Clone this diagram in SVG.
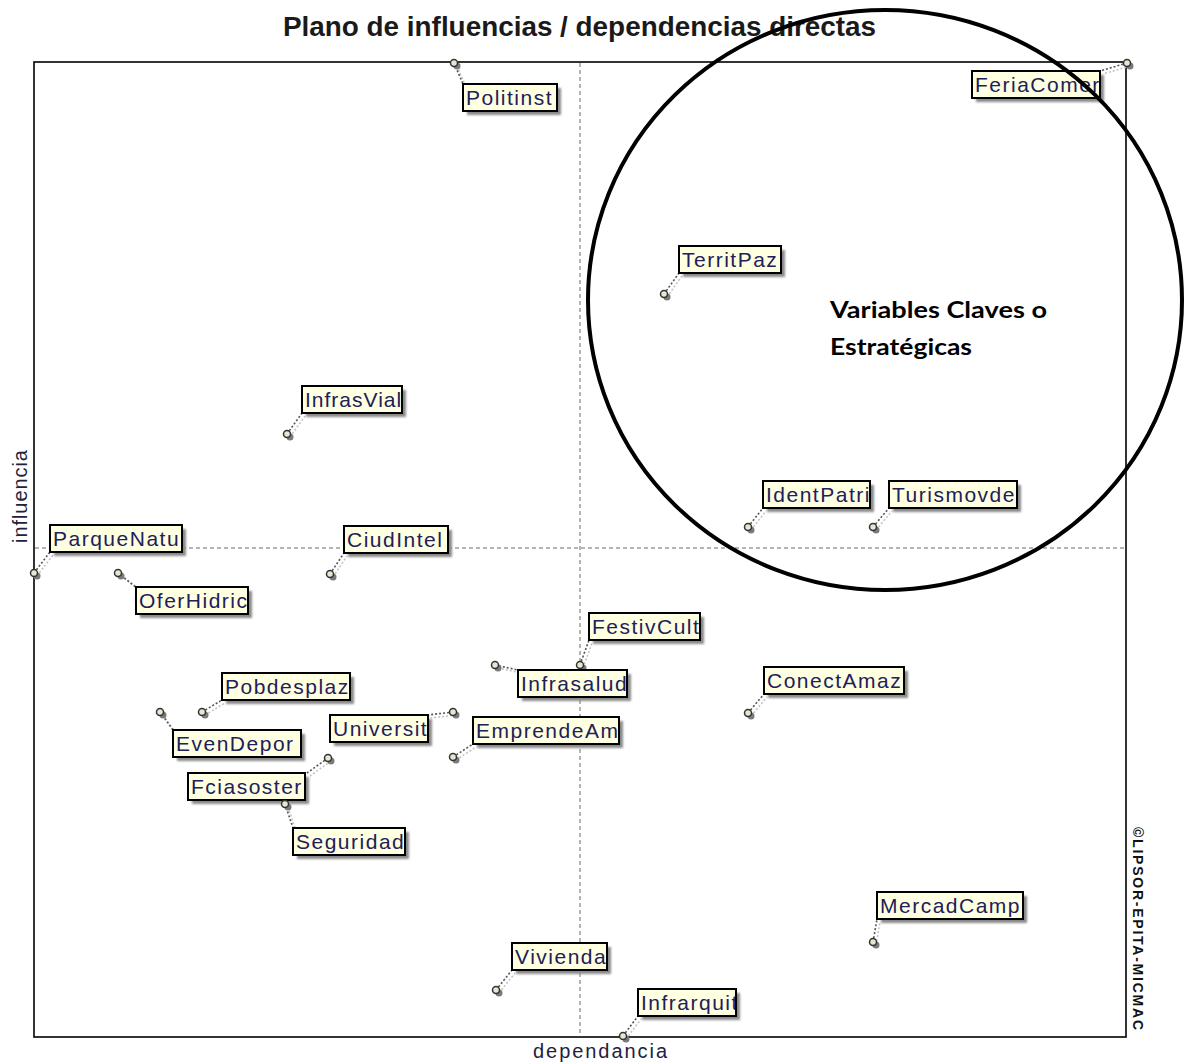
<svg xmlns="http://www.w3.org/2000/svg" width="1186" height="1064" viewBox="0 0 1186 1064">
  <style>
    .frame { fill: #ffffff; stroke: #000000; stroke-width: 1.6; }
    .axis { stroke: #6a6a6a; stroke-width: 1; stroke-dasharray: 4 3; fill: none; }
    .link { stroke: #555555; stroke-width: 1.6; stroke-dasharray: 2 2; fill: none; }
    .link-sh { stroke: #c4c4c4; stroke-width: 1.6; stroke-dasharray: 2 2; fill: none; }
    .box { fill: none; stroke: #000000; stroke-width: 2; }
    .box-sh { fill: #8a8a8a; filter: url(#soft); }
    .lbl { font-family: "Liberation Sans", Arial, sans-serif; font-size: 21px; letter-spacing: 1.5px; fill: #20205a; }
    .pt { fill: #e6e6d2; stroke: #333333; stroke-width: 1.5; }
    .pt-sh { fill: #7a7a7a; }
    .axlbl { font-family: "Liberation Sans", Arial, sans-serif; font-size: 20px; fill: #22223c; }
    .title { font-family: "Liberation Sans", Arial, sans-serif; font-size: 27px; font-weight: bold; fill: #1a1a1a; }
    .note { font-family: Lato, "Liberation Sans", sans-serif; font-size: 22px; font-weight: bold; fill: #000000; }
    .copy { font-family: "Liberation Sans", Arial, sans-serif; font-size: 14px; font-weight: bold; fill: #111111; }
  </style>
  <defs>
    <filter id="soft" x="-20%" y="-40%" width="140%" height="180%">
      <feGaussianBlur stdDeviation="1.2"/>
    </filter>
  </defs>

  <rect x="0" y="0" width="1186" height="1064" fill="#ffffff"/>

  <!-- title -->
  <text class="title" x="283" y="36" textLength="593" lengthAdjust="spacingAndGlyphs">Plano de influencias / dependencias directas</text>

  <!-- plot frame and mean axes -->
  <rect class="frame" x="34" y="62" width="1092" height="975"/>
  <line class="axis" x1="580" y1="63" x2="580" y2="1036"/>
  <line class="axis" x1="35" y1="548" x2="1125" y2="548"/>

  <!-- axis titles -->
  <text class="axlbl" x="533" y="1058" textLength="134" lengthAdjust="spacing">dependancia</text>
  <text class="axlbl" transform="translate(27,497) rotate(-90)" x="-46" y="0" textLength="93" lengthAdjust="spacing">influencia</text>
  <text class="copy" transform="translate(1133,827) rotate(90)" x="0" y="0" textLength="203" lengthAdjust="spacing">©LIPSOR-EPITA-MICMAC</text>

  <!-- leader lines from each point to its label -->
  <g id="connectors">
    <g class="link-sh" transform="translate(3,3)">
      <line x1="1127" y1="63" x2="1100" y2="71"/>
      <line x1="454" y1="63" x2="463" y2="84"/>
      <line x1="664" y1="294" x2="679" y2="273"/>
      <line x1="287" y1="434" x2="302" y2="413"/>
      <line x1="748" y1="527" x2="763" y2="508"/>
      <line x1="873" y1="527" x2="889" y2="508"/>
      <line x1="34" y1="573" x2="50" y2="552"/>
      <line x1="118" y1="573" x2="136" y2="587"/>
      <line x1="330" y1="574" x2="344" y2="553"/>
      <line x1="580" y1="665" x2="589" y2="640"/>
      <line x1="495" y1="665" x2="518" y2="670"/>
      <line x1="453" y1="757" x2="473" y2="744"/>
      <line x1="453" y1="712" x2="428" y2="715"/>
      <line x1="202" y1="712" x2="222" y2="700"/>
      <line x1="160" y1="712" x2="173" y2="730"/>
      <line x1="328" y1="758" x2="307" y2="773"/>
      <line x1="285" y1="804" x2="293" y2="828"/>
      <line x1="748" y1="713" x2="764" y2="694"/>
      <line x1="873" y1="942" x2="877" y2="919"/>
      <line x1="496" y1="990" x2="512" y2="970"/>
      <line x1="623" y1="1036" x2="638" y2="1016"/>
    </g>
    <g class="link">
      <line x1="1127" y1="63" x2="1100" y2="71"/>
      <line x1="454" y1="63" x2="463" y2="84"/>
      <line x1="664" y1="294" x2="679" y2="273"/>
      <line x1="287" y1="434" x2="302" y2="413"/>
      <line x1="748" y1="527" x2="763" y2="508"/>
      <line x1="873" y1="527" x2="889" y2="508"/>
      <line x1="34" y1="573" x2="50" y2="552"/>
      <line x1="118" y1="573" x2="136" y2="587"/>
      <line x1="330" y1="574" x2="344" y2="553"/>
      <line x1="580" y1="665" x2="589" y2="640"/>
      <line x1="495" y1="665" x2="518" y2="670"/>
      <line x1="453" y1="757" x2="473" y2="744"/>
      <line x1="453" y1="712" x2="428" y2="715"/>
      <line x1="202" y1="712" x2="222" y2="700"/>
      <line x1="160" y1="712" x2="173" y2="730"/>
      <line x1="328" y1="758" x2="307" y2="773"/>
      <line x1="285" y1="804" x2="293" y2="828"/>
      <line x1="748" y1="713" x2="764" y2="694"/>
      <line x1="873" y1="942" x2="877" y2="919"/>
      <line x1="496" y1="990" x2="512" y2="970"/>
      <line x1="623" y1="1036" x2="638" y2="1016"/>
    </g>
  </g>

  <!-- variables: shadowed label box, clipped name, plotted point -->
  <g id="FeriaComer">
    <rect class="box-sh" x="976" y="75" width="128" height="27"/>
    <svg x="972" y="71" width="128" height="27"><rect width="128" height="27" fill="#ffffe1"/><text class="lbl" x="3" y="20.5">FeriaComer</text></svg>
    <rect class="box" x="972" y="71" width="128" height="27"/>
    <circle class="pt-sh" cx="1130" cy="66" r="3.5"/><circle class="pt" cx="1127" cy="63" r="3.5"/>
  </g>
  <g id="Politinst">
    <rect class="box-sh" x="467" y="88" width="94" height="27"/>
    <svg x="463" y="84" width="94" height="27"><rect width="94" height="27" fill="#ffffe1"/><text class="lbl" x="3" y="20.5">Politinst</text></svg>
    <rect class="box" x="463" y="84" width="94" height="27"/>
    <circle class="pt-sh" cx="457" cy="66" r="3.5"/><circle class="pt" cx="454" cy="63" r="3.5"/>
  </g>
  <g id="TerritPaz">
    <rect class="box-sh" x="683" y="250" width="102" height="27"/>
    <svg x="679" y="246" width="102" height="27"><rect width="102" height="27" fill="#ffffe1"/><text class="lbl" x="3" y="20.5">TerritPaz</text></svg>
    <rect class="box" x="679" y="246" width="102" height="27"/>
    <circle class="pt-sh" cx="667" cy="297" r="3.5"/><circle class="pt" cx="664" cy="294" r="3.5"/>
  </g>
  <g id="InfrasVial">
    <rect class="box-sh" x="306" y="390" width="100" height="27"/>
    <svg x="302" y="386" width="100" height="27"><rect width="100" height="27" fill="#ffffe1"/><text class="lbl" x="3" y="20.5" style="letter-spacing:1px">InfrasVial</text></svg>
    <rect class="box" x="302" y="386" width="100" height="27"/>
    <circle class="pt-sh" cx="290" cy="437" r="3.5"/><circle class="pt" cx="287" cy="434" r="3.5"/>
  </g>
  <g id="IdentPatri">
    <rect class="box-sh" x="767" y="485" width="107" height="27"/>
    <svg x="763" y="481" width="107" height="27"><rect width="107" height="27" fill="#ffffe1"/><text class="lbl" x="3" y="20.5">IdentPatri</text></svg>
    <rect class="box" x="763" y="481" width="107" height="27"/>
    <circle class="pt-sh" cx="751" cy="530" r="3.5"/><circle class="pt" cx="748" cy="527" r="3.5"/>
  </g>
  <g id="Turismovde">
    <rect class="box-sh" x="893" y="485" width="128" height="27"/>
    <svg x="889" y="481" width="128" height="27"><rect width="128" height="27" fill="#ffffe1"/><text class="lbl" x="3" y="20.5">Turismovde</text></svg>
    <rect class="box" x="889" y="481" width="128" height="27"/>
    <circle class="pt-sh" cx="876" cy="530" r="3.5"/><circle class="pt" cx="873" cy="527" r="3.5"/>
  </g>
  <g id="ParqueNatu">
    <rect class="box-sh" x="54" y="529" width="132" height="27"/>
    <svg x="50" y="525" width="132" height="27"><rect width="132" height="27" fill="#ffffe1"/><text class="lbl" x="3" y="20.5">ParqueNatu</text></svg>
    <rect class="box" x="50" y="525" width="132" height="27"/>
    <circle class="pt-sh" cx="37" cy="576" r="3.5"/><circle class="pt" cx="34" cy="573" r="3.5"/>
  </g>
  <g id="OferHidric">
    <rect class="box-sh" x="140" y="591" width="112" height="27"/>
    <svg x="136" y="587" width="112" height="27"><rect width="112" height="27" fill="#ffffe1"/><text class="lbl" x="3" y="20.5">OferHidric</text></svg>
    <rect class="box" x="136" y="587" width="112" height="27"/>
    <circle class="pt-sh" cx="121" cy="576" r="3.5"/><circle class="pt" cx="118" cy="573" r="3.5"/>
  </g>
  <g id="CiudIntel">
    <rect class="box-sh" x="348" y="530" width="104" height="27"/>
    <svg x="344" y="526" width="104" height="27"><rect width="104" height="27" fill="#ffffe1"/><text class="lbl" x="3" y="20.5">CiudIntel</text></svg>
    <rect class="box" x="344" y="526" width="104" height="27"/>
    <circle class="pt-sh" cx="333" cy="577" r="3.5"/><circle class="pt" cx="330" cy="574" r="3.5"/>
  </g>
  <g id="FestivCult">
    <rect class="box-sh" x="593" y="617" width="111" height="27"/>
    <svg x="589" y="613" width="111" height="27"><rect width="111" height="27" fill="#ffffe1"/><text class="lbl" x="3" y="20.5">FestivCult</text></svg>
    <rect class="box" x="589" y="613" width="111" height="27"/>
    <circle class="pt-sh" cx="583" cy="668" r="3.5"/><circle class="pt" cx="580" cy="665" r="3.5"/>
  </g>
  <g id="Infrasalud">
    <rect class="box-sh" x="522" y="674" width="109" height="27"/>
    <svg x="518" y="670" width="109" height="27"><rect width="109" height="27" fill="#ffffe1"/><text class="lbl" x="3" y="20.5">Infrasalud</text></svg>
    <rect class="box" x="518" y="670" width="109" height="27"/>
    <circle class="pt-sh" cx="498" cy="668" r="3.5"/><circle class="pt" cx="495" cy="665" r="3.5"/>
  </g>
  <g id="EmprendeAm">
    <rect class="box-sh" x="477" y="721" width="146" height="27"/>
    <svg x="473" y="717" width="146" height="27"><rect width="146" height="27" fill="#ffffe1"/><text class="lbl" x="3" y="20.5">EmprendeAm</text></svg>
    <rect class="box" x="473" y="717" width="146" height="27"/>
    <circle class="pt-sh" cx="456" cy="760" r="3.5"/><circle class="pt" cx="453" cy="757" r="3.5"/>
  </g>
  <g id="Universit">
    <rect class="box-sh" x="334" y="719" width="98" height="27"/>
    <svg x="330" y="715" width="98" height="27"><rect width="98" height="27" fill="#ffffe1"/><text class="lbl" x="3" y="20.5">Universit</text></svg>
    <rect class="box" x="330" y="715" width="98" height="27"/>
    <circle class="pt-sh" cx="456" cy="715" r="3.5"/><circle class="pt" cx="453" cy="712" r="3.5"/>
  </g>
  <g id="Pobdesplaz">
    <rect class="box-sh" x="226" y="677" width="128" height="27"/>
    <svg x="222" y="673" width="128" height="27"><rect width="128" height="27" fill="#ffffe1"/><text class="lbl" x="3" y="20.5">Pobdesplaz</text></svg>
    <rect class="box" x="222" y="673" width="128" height="27"/>
    <circle class="pt-sh" cx="205" cy="715" r="3.5"/><circle class="pt" cx="202" cy="712" r="3.5"/>
  </g>
  <g id="EvenDepor">
    <rect class="box-sh" x="177" y="734" width="128" height="27"/>
    <svg x="173" y="730" width="128" height="27"><rect width="128" height="27" fill="#ffffe1"/><text class="lbl" x="3" y="20.5">EvenDepor</text></svg>
    <rect class="box" x="173" y="730" width="128" height="27"/>
    <circle class="pt-sh" cx="163" cy="715" r="3.5"/><circle class="pt" cx="160" cy="712" r="3.5"/>
  </g>
  <g id="Fciasoster">
    <rect class="box-sh" x="192" y="777" width="117" height="27"/>
    <svg x="188" y="773" width="117" height="27"><rect width="117" height="27" fill="#ffffe1"/><text class="lbl" x="3" y="20.5">Fciasoster</text></svg>
    <rect class="box" x="188" y="773" width="117" height="27"/>
    <circle class="pt-sh" cx="331" cy="761" r="3.5"/><circle class="pt" cx="328" cy="758" r="3.5"/>
  </g>
  <g id="Seguridad">
    <rect class="box-sh" x="297" y="832" width="112" height="27"/>
    <svg x="293" y="828" width="112" height="27"><rect width="112" height="27" fill="#ffffe1"/><text class="lbl" x="3" y="20.5">Seguridad</text></svg>
    <rect class="box" x="293" y="828" width="112" height="27"/>
    <circle class="pt-sh" cx="288" cy="807" r="3.5"/><circle class="pt" cx="285" cy="804" r="3.5"/>
  </g>
  <g id="ConectAmaz">
    <rect class="box-sh" x="768" y="671" width="140" height="27"/>
    <svg x="764" y="667" width="140" height="27"><rect width="140" height="27" fill="#ffffe1"/><text class="lbl" x="3" y="20.5">ConectAmaz</text></svg>
    <rect class="box" x="764" y="667" width="140" height="27"/>
    <circle class="pt-sh" cx="751" cy="716" r="3.5"/><circle class="pt" cx="748" cy="713" r="3.5"/>
  </g>
  <g id="MercadCamp">
    <rect class="box-sh" x="881" y="896" width="146" height="27"/>
    <svg x="877" y="892" width="146" height="27"><rect width="146" height="27" fill="#ffffe1"/><text class="lbl" x="3" y="20.5">MercadCamp</text></svg>
    <rect class="box" x="877" y="892" width="146" height="27"/>
    <circle class="pt-sh" cx="876" cy="945" r="3.5"/><circle class="pt" cx="873" cy="942" r="3.5"/>
  </g>
  <g id="Vivienda">
    <rect class="box-sh" x="516" y="947" width="95" height="27"/>
    <svg x="512" y="943" width="95" height="27"><rect width="95" height="27" fill="#ffffe1"/><text class="lbl" x="3" y="20.5">Vivienda</text></svg>
    <rect class="box" x="512" y="943" width="95" height="27"/>
    <circle class="pt-sh" cx="499" cy="993" r="3.5"/><circle class="pt" cx="496" cy="990" r="3.5"/>
  </g>
  <g id="Infrarquit">
    <rect class="box-sh" x="642" y="993" width="98" height="27"/>
    <svg x="638" y="989" width="98" height="27"><rect width="98" height="27" fill="#ffffe1"/><text class="lbl" x="3" y="20.5">Infrarquit</text></svg>
    <rect class="box" x="638" y="989" width="98" height="27"/>
    <circle class="pt-sh" cx="626" cy="1039" r="3.5"/><circle class="pt" cx="623" cy="1036" r="3.5"/>
  </g>

  <!-- highlighted quadrant of key variables -->
  <g id="key-zone">
    <ellipse cx="885" cy="300" rx="297" ry="290" fill="none" stroke="#000000" stroke-width="4"/>
    <text class="note" x="830" y="318" textLength="217" lengthAdjust="spacingAndGlyphs">Variables Claves o</text>
    <text class="note" x="830" y="355" textLength="142" lengthAdjust="spacingAndGlyphs">Estratégicas</text>
  </g>
</svg>
